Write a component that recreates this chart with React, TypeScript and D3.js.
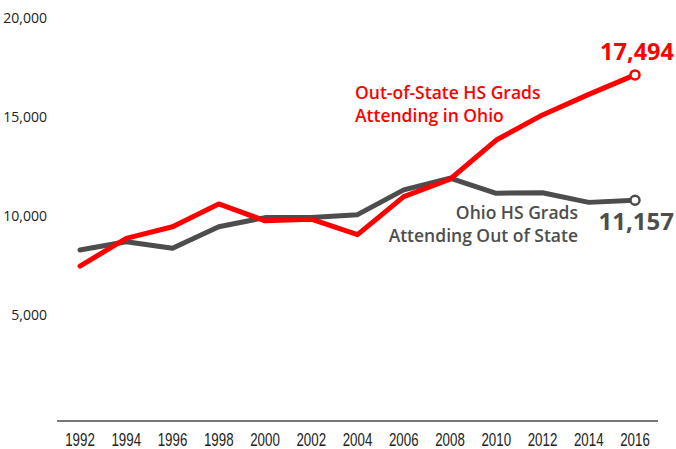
import React from "react";
import * as d3 from "d3";

const years = [1992, 1994, 1996, 1998, 2000, 2002, 2004, 2006, 2008, 2010, 2012, 2014, 2016];
const ohioOutOfState = [8640, 9060, 8730, 9820, 10280, 10280, 10430, 11680, 12270, 11510, 11540, 11050, 11157];
const outOfStateInOhio = [7830, 9230, 9820, 10970, 10120, 10200, 9420, 11340, 12220, 14200, 15470, 16510, 17494];
const yTicks = [5000, 10000, 15000, 20000];

const W = 676;
const H = 449;
const RED = "#ff0000";
const GRAY = "#4d4d4d";

export default function App() {
  const x = d3.scaleLinear().domain([1992, 2016]).range([80, 635]);
  const y = d3.scaleLinear().domain([0, 20000]).range([421, 25.3]);
  const line = d3
    .line<number>()
    .x((_, i) => x(years[i]))
    .y((d) => y(d));
  const fmt = d3.format(",");
  const lastI = years.length - 1;
  const sans = "'Open Sans', 'Noto Sans', sans-serif";
  const lib = "'Liberation Sans', Arial, sans-serif";

  return (
    <svg
      width={W}
      height={H}
      style={{ position: "absolute", left: 0, top: 0, display: "block" }}
    >
      <rect width={W} height={H} fill="#fff" />
      {yTicks.map((t) => (
        <text
          key={t}
          x={47}
          y={y(t) - 2.5}
          textAnchor="end"
          fontFamily={sans}
          fontSize={14}
          fill="#222"
        >
          {fmt(t)}
        </text>
      ))}
      <line x1={57} x2={658} y1={421} y2={421} stroke="#777" strokeWidth={2} />
      {years.map((yr) => (
        <text
          key={yr}
          transform={`translate(${x(yr)},446) scale(0.76,1)`}
          textAnchor="middle"
          fontFamily={lib}
          fontSize={17.5}
          fill="#222"
        >
          {yr}
        </text>
      ))}
      <path
        d={line(ohioOutOfState) || ""}
        fill="none"
        stroke={GRAY}
        strokeWidth={5}
        strokeLinecap="round"
        strokeLinejoin="round"
      />
      <path
        d={line(outOfStateInOhio) || ""}
        fill="none"
        stroke={RED}
        strokeWidth={5}
        strokeLinecap="round"
        strokeLinejoin="round"
      />
      <circle
        cx={x(years[lastI])}
        cy={y(ohioOutOfState[lastI])}
        r={4.5}
        fill="#fff"
        stroke={GRAY}
        strokeWidth={2.5}
      />
      <circle
        cx={x(years[lastI])}
        cy={y(outOfStateInOhio[lastI])}
        r={4.5}
        fill="#fff"
        stroke={RED}
        strokeWidth={2.5}
      />
      <text x={674} y={59.5} textAnchor="end" fontFamily={sans} fontWeight={700} fontSize={23.5} fill={RED}>
        {fmt(outOfStateInOhio[lastI])}
      </text>
      <text x={674} y={230} textAnchor="end" fontFamily={sans} fontWeight={700} fontSize={24} fill={GRAY}>
        {fmt(ohioOutOfState[lastI])}
      </text>
      <text fontFamily={sans} fontWeight={600} fontSize={17.5} fill={RED}>
        <tspan x={355} y={99}>Out-of-State HS Grads</tspan>
        <tspan x={355} y={122}>Attending in Ohio</tspan>
      </text>
      <text fontFamily={sans} fontWeight={600} fontSize={17.5} fill={GRAY} textAnchor="end">
        <tspan x={578} y={219}>Ohio HS Grads</tspan>
        <tspan x={578} y={242}>Attending Out of State</tspan>
      </text>
    </svg>
  );
}
